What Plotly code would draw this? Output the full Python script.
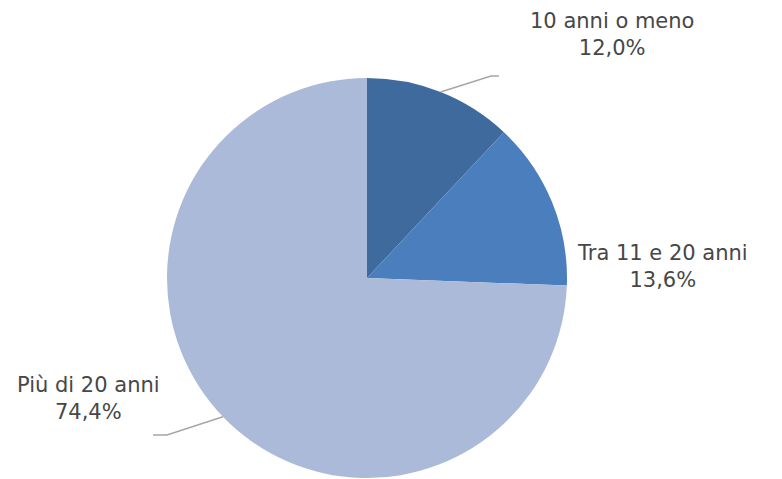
import math
import plotly.graph_objects as go

labels = ["10 anni o meno", "Tra 11 e 20 anni", "Più di 20 anni"]
values = [12.0, 13.6, 74.4]
colors = ["#3E6A9E", "#4A7EBD", "#AABAD8"]

W, H = 782, 479
CX, CY, R = 367, 278, 200  # pie centre / radius in px

def px(x, y):
    return x / W, (H - y) / H

fig = go.Figure(go.Pie(
    labels=labels, values=values, sort=False, direction="clockwise", rotation=0,
    marker=dict(colors=colors, line=dict(width=0)),
    textinfo="none", hoverinfo="label+percent", showlegend=False,
    domain=dict(x=[(CX - R) / W, (CX + R) / W], y=[(H - CY - R) / H, (H - CY + R) / H]),
))

# label placement (px): text centre, elbow, end of leader
label_pos = [(612, 35), (662, 266), (88, 398)]
leaders = [((491, 76), (499, 76)), None, ((167, 435), (153, 435))]

total = sum(values)
cum = 0
shapes, annotations = [], []
for i, (lab, v) in enumerate(zip(labels, values)):
    mid = (cum + v / 2) / total * 2 * math.pi
    cum += v
    ex, ey = CX + R * math.sin(mid), CY - R * math.cos(mid)
    txt = f"{lab}<br>{v:.1f}%".replace(".", ",")
    tx, ty = label_pos[i]
    X, Y = px(tx, ty)
    annotations.append(dict(x=X, y=Y, xref="paper", yref="paper", text=txt, showarrow=False,
                            xanchor="center", yanchor="middle", align="center",
                            font=dict(family="DejaVu Sans, sans-serif", size=21, color="#474747")))
    if leaders[i]:
        (bx, by), (fx, fy) = leaders[i]
        p0, p1, p2 = px(ex, ey), px(bx, by), px(fx, fy)
        shapes.append(dict(type="path", xref="paper", yref="paper",
                           path=f"M {p0[0]} {p0[1]} L {p1[0]} {p1[1]} L {p2[0]} {p2[1]}",
                           line=dict(color="#A6A6A6", width=1.5)))

fig.update_layout(width=W, height=H, margin=dict(l=0, r=0, t=0, b=0),
                  paper_bgcolor="white", plot_bgcolor="white",
                  shapes=shapes, annotations=annotations)
fig.write_html("out.html", config={"displayModeBar": False},
               post_script="document.body.style.margin='0';")
